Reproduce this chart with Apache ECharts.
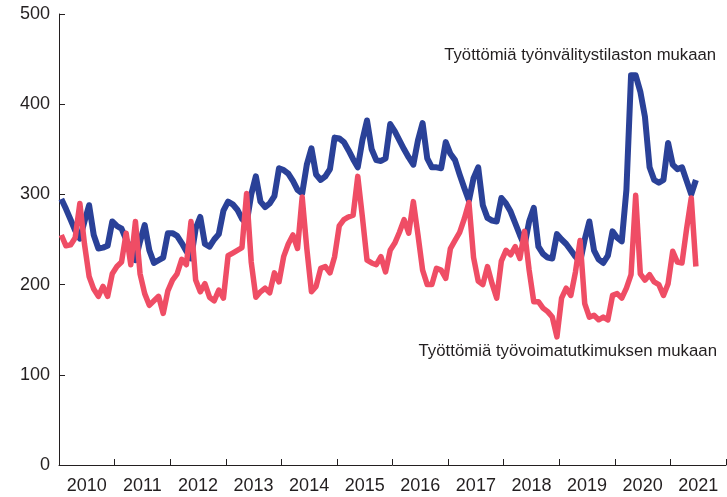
<!DOCTYPE html>
<html>
<head>
<meta charset="utf-8">
<script src="https://cdn.jsdelivr.net/npm/echarts@6/dist/echarts.min.js"></script>
<style>
  html, body { margin: 0; padding: 0; background: #fff; }
  #chart { width: 727px; height: 497px; }
</style>
</head>
<body>
<div id="chart"></div>
<script>
// vuodet x-akselille
var years = ['2010', '2011', '2012', '2013', '2014', '2015', '2016', '2017', '2018', '2019', '2020', '2021'];
var yTicks = [0, 100, 200, 300, 400, 500];

// tuhatta henkeä, kuukausittain tammikuu 2010 - kesäkuu 2021
var tyonvalitys = [
  295, 284, 272, 260, 251, 270, 288, 255, 240, 241, 243, 270,
  265, 262, 250, 240, 227, 248, 266, 238, 224, 227, 230, 257,
  257, 254, 246, 237, 229, 262, 275, 245, 242, 250, 256, 282,
  292, 289, 283, 273, 268, 300, 320, 292, 286, 290, 298, 329,
  327, 323, 315, 305, 301, 333, 351, 322, 316, 320, 328, 363,
  362, 358, 349, 339, 330, 360, 382, 350, 338, 337, 340, 378,
  370, 360, 350, 341, 333, 360, 379, 340, 330, 330, 329, 358,
  345, 338, 322, 307, 293, 318, 330, 288, 274, 271, 270, 296,
  290, 281, 268, 255, 243, 270, 285, 242, 234, 230, 229, 256,
  250, 245, 238, 231, 225, 250, 270, 238, 228, 224, 232, 259,
  252, 248, 305, 432, 432, 414, 386, 330, 316, 313, 316, 357,
  333, 328, 330, 315, 300, 316
];
var tyovoima = [
  255, 243, 244, 252, 290, 245, 209, 195, 187, 198, 187, 212,
  220, 225, 257, 222, 270, 212, 190, 177, 182, 187, 168, 193,
  205, 212, 228, 222, 270, 205, 192, 201, 186, 182, 194, 185,
  232, 235, 238, 241, 301, 225, 186, 192, 196, 191, 213, 203,
  231, 245, 255, 240, 297, 240, 192, 198, 218, 220, 213, 231,
  265, 272, 275, 277, 320, 275, 227, 224, 222, 231, 214, 238,
  246, 258, 272, 257, 292, 255, 216, 200, 200, 218, 216, 207,
  240, 249, 258, 273, 291, 230, 204, 200, 220, 201, 185, 226,
  238, 233, 242, 229, 259, 216, 181, 181, 174, 170, 164, 142,
  185, 196, 188, 214, 249, 179, 164, 166, 161, 164, 161, 188,
  190, 185, 196, 211, 299, 212, 205, 211, 203, 200, 188, 201,
  237, 225, 224, 262, 296, 220
];
var nimet = ['Työttömiä työnvälitystilaston mukaan', 'Työttömiä työvoimatutkimuksen mukaan'];

function kuukausittain(arr) {
  // piste kuukauden keskelle
  return arr.map(function (v, i) { return [i + 0.5, v]; });
}

var myChart = echarts.init(document.getElementById('chart'));
var tekstiVari = '#231f20';
var fontti = '"Liberation Sans", Arial, sans-serif';

var option = {
  animation: false,
  backgroundColor: '#fff',
  grid: { left: 59, right: 1, top: 14, bottom: 32 },
  xAxis: [{
    type: 'value',
    min: 0,
    max: years.length * 12,
    interval: 12,
    axisLine: { show: true, onZero: false, lineStyle: { color: '#231f20', width: 1 } },
    axisTick: { show: true, inside: true, length: 6, lineStyle: { color: '#231f20' } },
    axisLabel: { show: false },
    splitLine: { show: false }
  }, {
    type: 'category',
    position: 'bottom',
    data: years,
    boundaryGap: true,
    axisLine: { show: false },
    axisTick: { show: false },
    axisLabel: { color: tekstiVari, fontSize: 18, fontFamily: fontti, margin: 12 },
    splitLine: { show: false }
  }],
  yAxis: {
    type: 'value',
    min: yTicks[0],
    max: yTicks[yTicks.length - 1],
    interval: 100,
    axisLine: { show: true, lineStyle: { color: '#231f20', width: 1 } },
    axisTick: { show: true, inside: true, length: 6, lineStyle: { color: '#231f20' } },
    axisLabel: { color: tekstiVari, fontSize: 18, fontFamily: fontti, margin: 9 },
    splitLine: { show: false }
  },
  series: [{
    name: nimet[0],
    type: 'line',
    xAxisIndex: 0,
    data: kuukausittain(tyonvalitys),
    showSymbol: false,
    lineStyle: { color: '#2a4198', width: 6, join: 'round' },
    itemStyle: { color: '#2a4198' }
  }, {
    name: nimet[1],
    type: 'line',
    xAxisIndex: 0,
    data: kuukausittain(tyovoima),
    showSymbol: false,
    lineStyle: { color: '#ef4d65', width: 5.5, join: 'round' },
    itemStyle: { color: '#ef4d65' }
  }],
  graphic: [{
    type: 'text',
    right: 11,
    top: 47,
    style: { text: nimet[0], fill: tekstiVari, font: '16.7px ' + fontti }
  }, {
    type: 'text',
    right: 10,
    top: 343,
    style: { text: nimet[1], fill: tekstiVari, font: '16.8px ' + fontti }
  }]
};
myChart.setOption(option);
</script>
</body>
</html>
